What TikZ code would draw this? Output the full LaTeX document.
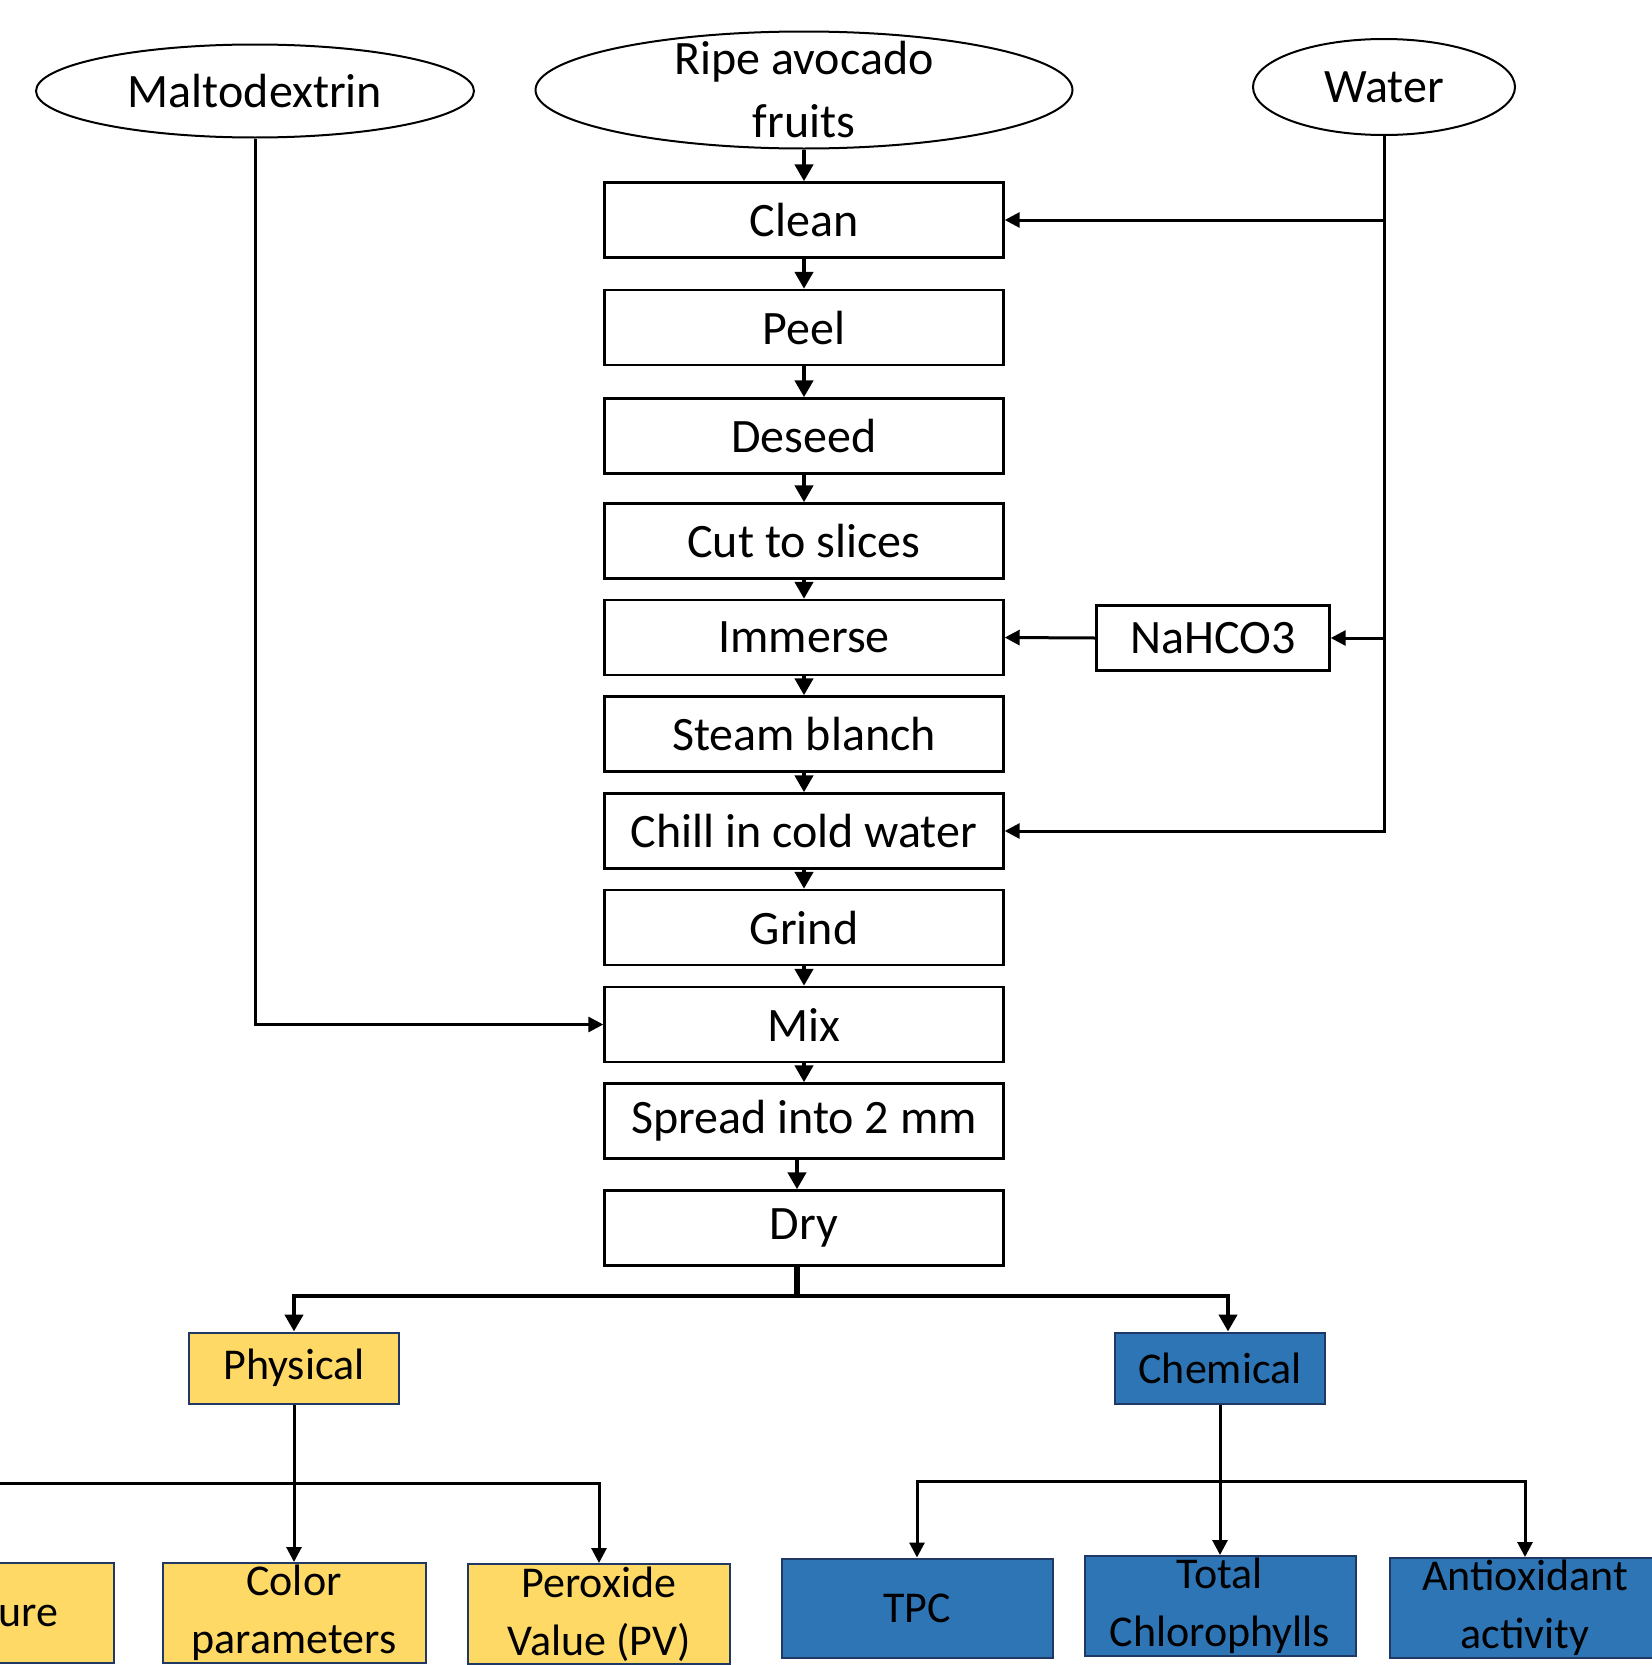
\documentclass[tikz,border=0pt]{standalone}
\usepackage{fontspec}
\setmainfont{Carlito}
\usetikzlibrary{arrows.meta,shapes.geometric}
\definecolor{physyellow}{HTML}{FFD966}
\definecolor{chemblue}{HTML}{2E75B6}
\definecolor{edgeblue}{HTML}{203864}

\begin{document}
\begin{tikzpicture}[x=0.5pt,y=-0.5pt,
  stepbox/.style={draw, line width=1.2pt, minimum width=199.5pt, minimum height=37.5pt,
    inner sep=0pt, font=\fontsize{24}{29}\selectfont},
  source/.style={ellipse, draw, line width=1pt, inner xsep=0pt, inner ysep=-8pt,
    align=center, font=\fontsize{24}{31.5}\selectfont},
  physbox/.style={draw=edgeblue, line width=1pt, fill=physyellow, inner xsep=0pt,
    inner ysep=-4pt, align=center, font=\fontsize{22}{29}\selectfont},
  chembox/.style={physbox, fill=chemblue},
  flow/.style={line width=2.4pt, -{Triangle[length=8.5pt,width=9pt]}},
  feed/.style={line width=1.5pt, -{Triangle[length=7.5pt,width=7.5pt]}}]
\clip (0,0) rectangle (1652,1665);

\node[source, minimum width=219pt, minimum height=46.5pt] (malto) at (255,91) {Maltodextrin};
\node[source, minimum width=268.5pt, minimum height=58.5pt] (ripe) at (804,90) {Ripe avocado\\fruits};
\node[source, minimum width=131pt, minimum height=48pt] (water) at (1384,87) {Water};

\node[stepbox] (clean) at (804,220) {Clean};
\node[stepbox] (peel) at (804,327.5) {Peel};
\node[stepbox] (deseed) at (804,436) {Deseed};
\node[stepbox] (slices) at (804,541) {Cut to slices};
\node[stepbox] (immerse) at (804,637.5) {Immerse};
\node[stepbox] (blanch) at (804,734) {Steam blanch};
\node[stepbox] (chill) at (804,831) {Chill in cold water};
\node[stepbox] (grind) at (804,927.5) {Grind};
\node[stepbox] (mix) at (804,1024.5) {Mix};
\node[stepbox] (spread) at (804,1121) {Spread into 2 mm};
\node[stepbox] (dry) at (804,1228) {Dry};

\node[stepbox, minimum width=116.5pt, minimum height=32.5pt] (nahco) at (1213,638) {NaHCO3};

\node[physbox, minimum width=105pt, minimum height=35.5pt] (physical) at (294,1368) {Physical};
\node[chembox, minimum width=105pt, minimum height=35.5pt] (chemical) at (1220,1368) {Chemical};

\node[physbox, minimum width=122pt, minimum height=50pt] (texture) at (-8,1613) {Texture};
\node[physbox, minimum width=131.5pt, minimum height=50pt] (color) at (294,1613) {Color\\parameters};
\node[physbox, minimum width=131pt, minimum height=50pt] (peroxide) at (599,1614) {Peroxide\\Value (PV)};
\node[chembox, minimum width=135.5pt, minimum height=49.5pt] (tpc) at (917,1608) {TPC};
\node[chembox, minimum width=135.5pt, minimum height=50pt] (total) at (1220,1606) {Total\\Chlorophylls};
\node[chembox, minimum width=135.5pt, minimum height=50pt] (antiox) at (1525,1608) {Antioxidant\\activity};

\draw[flow] (ripe.south) -- (clean.north);
\draw[flow] (clean.south) -- (peel.north);
\draw[flow] (peel.south) -- (deseed.north);
\draw[flow] (deseed.south) -- (slices.north);
\draw[flow] (slices.south) -- (immerse.north);
\draw[flow] (immerse.south) -- (blanch.north);
\draw[flow] (blanch.south) -- (chill.north);
\draw[flow] (chill.south) -- (grind.north);
\draw[flow] (grind.south) -- (mix.north);
\draw[flow] (mix.south) -- (spread.north);
\draw[flow] ([xshift=-3.5pt]spread.south) -- ([xshift=-3.5pt]dry.north);

\draw[feed] (water.south) |- (chill.east);
\draw[feed] (water.south |- clean.east) -- (clean.east);
\draw[feed] (water.south |- nahco.east) -- (nahco.east);
\draw[feed] (nahco.west) -- (immerse.east);
\draw[feed] (malto.south) |- (mix.west);

\coordinate (split) at (797,1296);
\draw[line width=2.6pt] ([xshift=-3.5pt]dry.south) -- (split);
\draw[flow] (split) -| (physical.north);
\draw[flow] (split) -| ([xshift=4pt]chemical.north);

\coordinate (physfork) at (294,1483);
\draw[line width=1.5pt] (physical.south) -- (physfork);
\draw[feed] (physfork) -| (texture.north);
\draw[feed] (physfork) -- (color.north);
\draw[feed] (physfork) -| (peroxide.north);

\coordinate (chemfork) at (1220,1481);
\draw[line width=1.5pt] (chemical.south) -- (chemfork);
\draw[feed] (chemfork) -| (tpc.north);
\draw[feed] (chemfork) -- (total.north);
\draw[feed] (chemfork) -| (antiox.north);

\end{tikzpicture}
\end{document}
